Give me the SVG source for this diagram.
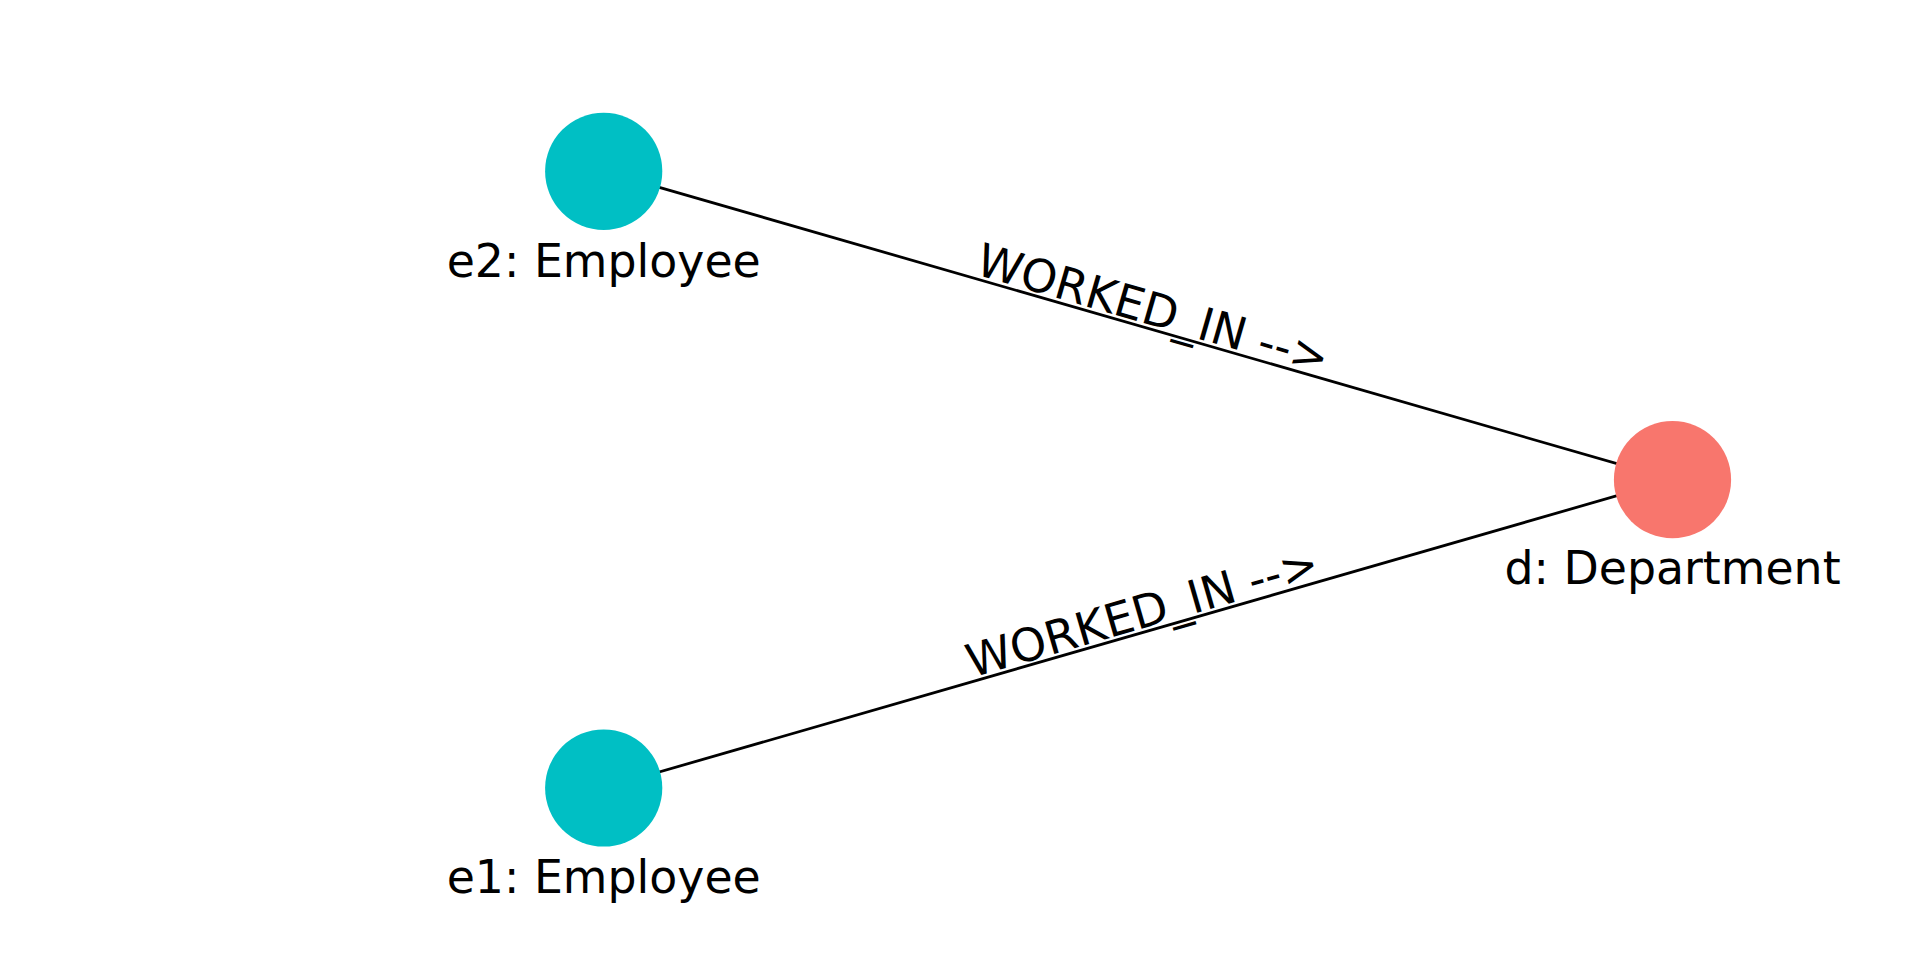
<svg xmlns="http://www.w3.org/2000/svg" width="1920" height="960" viewBox="0 0 1920 960">
<style>
.edge{stroke:#000;stroke-width:2.78;fill:none}
.lbl{font-family:"DejaVu Sans",sans-serif;font-size:45.8px;fill:#000;text-anchor:middle}
.emp{fill:#00BFC4}
.dep{fill:#F8766D}
</style>
<rect width="1920" height="960" fill="#fff"/>
<g id="connectors">
<line class="edge" x1="603.7" y1="171.3" x2="1672.5" y2="479.7"/>
<line class="edge" x1="603.7" y1="788" x2="1672.5" y2="479.7"/>
<text class="lbl" transform="translate(1148.8,324.5) rotate(16.09)">WORKED_IN --&gt;</text>
<text class="lbl" transform="translate(1146.7,627.3) rotate(-16.09)">WORKED_IN --&gt;</text>
</g>
<g id="e2">
<circle class="emp" cx="603.7" cy="171.3" r="58.6"/>
<text class="lbl" x="603.7" y="276.5">e2: Employee</text>
</g>
<g id="e1">
<circle class="emp" cx="603.7" cy="788" r="58.6"/>
<text class="lbl" x="603.7" y="893.2">e1: Employee</text>
</g>
<g id="d">
<circle class="dep" cx="1672.5" cy="479.7" r="58.6"/>
<text class="lbl" x="1672.5" y="584">d: Department</text>
</g>
</svg>
